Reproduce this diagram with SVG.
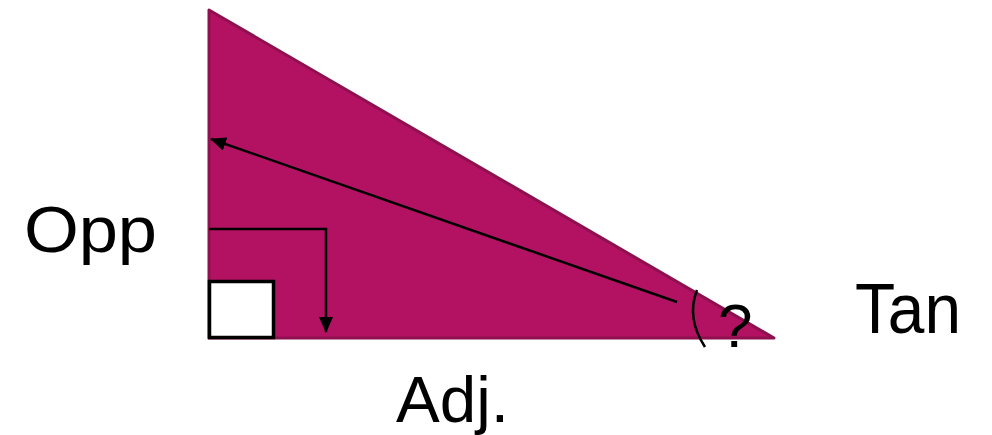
<svg xmlns="http://www.w3.org/2000/svg" width="992" height="435" viewBox="0 0 992 435">
<defs>
<style>
.lbl{font-family:"Liberation Sans",Arial,sans-serif;fill:#000}
.ln{fill:none;stroke:#000;stroke-width:2.5}
</style>
<marker id="ah" markerWidth="16" markerHeight="14" refX="15" refY="7" orient="auto" markerUnits="userSpaceOnUse">
<path d="M0,0 L16,7 L0,14 Z" fill="#000"/>
</marker>
</defs>
<rect width="992" height="435" fill="#fff"/>
<g id="triangle">
<path d="M209,10 L209,338 L774,338 Z" fill="#B31262" stroke="#8E104F" stroke-width="3" stroke-linejoin="round"/>
</g>
<g id="right-angle">
<rect x="209.5" y="281.5" width="64" height="56" fill="#fff" stroke="#000" stroke-width="3.5"/>
</g>
<g id="angle">
<path d="M697,290 Q686,318 705,347" class="ln"/>
<text x="718" y="347" class="lbl" font-size="62">?</text>
</g>
<g id="connectors">
<path d="M677,302 L211,139" class="ln" marker-end="url(#ah)"/>
<path d="M209,229 L326,229 L326,332" class="ln" marker-end="url(#ah)"/>
</g>
<g id="labels">
<text x="24" y="252" class="lbl" font-size="65" textLength="133" lengthAdjust="spacingAndGlyphs">Opp</text>
<text x="855" y="333" class="lbl" font-size="70" textLength="106" lengthAdjust="spacingAndGlyphs">Tan</text>
<text x="396" y="422" class="lbl" font-size="65" textLength="113" lengthAdjust="spacingAndGlyphs">Adj.</text>
</g>
</svg>
